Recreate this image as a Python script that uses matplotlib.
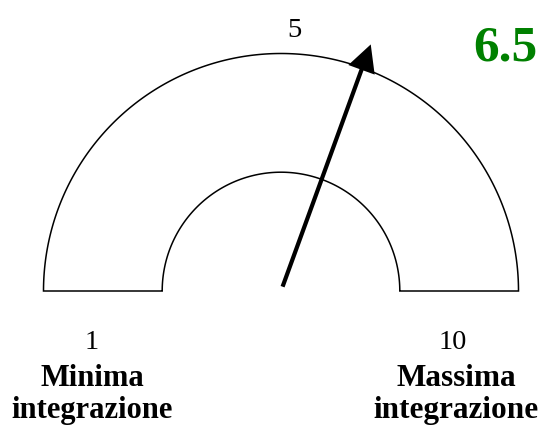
import numpy as np
import matplotlib
matplotlib.use("Agg")
import matplotlib.pyplot as plt
from matplotlib.patches import Polygon, FancyArrow

# Data
gauge_min = 1
gauge_max = 10
gauge_mid = 5
value = 6.5
min_label = ["Minima", "integrazione"]
max_label = ["Massima", "integrazione"]

W, H = 540, 428
fig = plt.figure(figsize=(W / 100, H / 100), dpi=100)
ax = fig.add_axes([0, 0, 1, 1])
ax.set_xlim(0, W)
ax.set_ylim(H, 0)
ax.axis("off")

cx, cy = 281.0, 291.0
R_out, R_in = 237.5, 118.8

t = np.linspace(np.pi, 0, 400)
outer = np.column_stack([cx + R_out * np.cos(t), cy - R_out * np.sin(t)])
inner = np.column_stack([cx + R_in * np.cos(t[::-1]), cy - R_in * np.sin(t[::-1])])
pts = np.vstack([outer, inner])
ax.add_patch(Polygon(pts, closed=True, facecolor="white", edgecolor="black",
                     lw=1.1, joinstyle="miter", zorder=2))

# Needle
frac = (value - gauge_min) / (gauge_max - gauge_min)
ang = np.pi * (1 - frac)
dx, dy = np.cos(ang), -np.sin(ang)
r0, r1 = 4.6, 262.4
ax.add_patch(FancyArrow(cx + r0 * dx, cy + r0 * dy, (r1 - r0) * dx, (r1 - r0) * dy,
                        width=4.2, head_width=28, head_length=27,
                        length_includes_head=True, color="black", lw=0, zorder=3))

serif = "Liberation Serif"
ax.text(294, 37, str(gauge_mid), ha="center", va="baseline", fontsize=20.5, family=serif)
ax.text(92, 349, str(gauge_min), ha="center", va="baseline", fontsize=20.5, family=serif)
ax.text(453, 349, str(gauge_max), ha="center", va="baseline", fontsize=20.5, family=serif)
ax.text(92.5, 385.5, min_label[0], ha="center", va="baseline", fontsize=22, family=serif, weight="bold")
ax.text(92.5, 418, min_label[1], ha="center", va="baseline", fontsize=22, family=serif, weight="bold")
ax.text(456.5, 385.5, max_label[0], ha="center", va="baseline", fontsize=22.5, family=serif, weight="bold")
ax.text(455.5, 418, max_label[1], ha="center", va="baseline", fontsize=22.5, family=serif, weight="bold")
ax.text(505, 60, f"{value:g}", ha="center", va="baseline", fontsize=37, family=serif,
        weight="bold", color="#008000")

fig.savefig("out.png", dpi=100, facecolor="white")
